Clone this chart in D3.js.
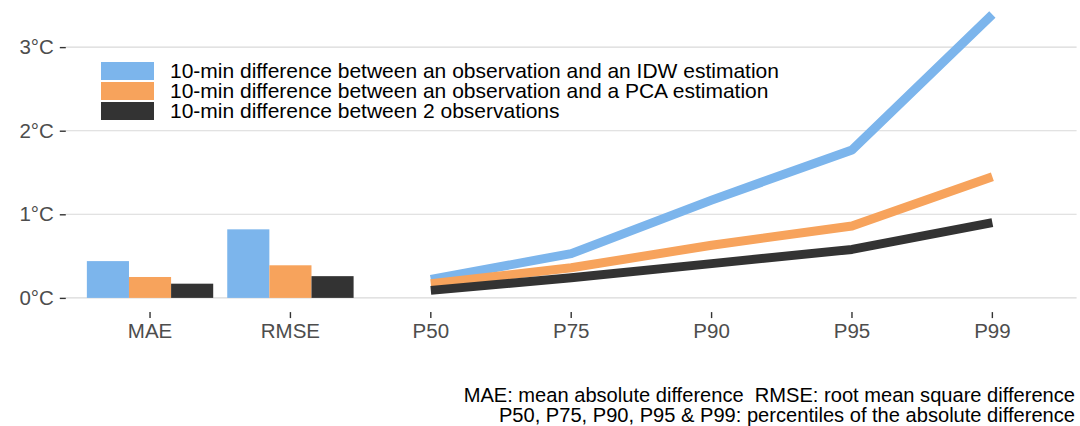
<!DOCTYPE html>
<html>
<head>
<meta charset="utf-8">
<script src="https://cdn.jsdelivr.net/npm/d3@7"></script>
<style>
  html, body { margin: 0; padding: 0; background: #fff; }
  svg { display: block; font-family: "Liberation Sans", Arial, Helvetica, sans-serif; }
</style>
</head>
<body>
<svg id="chart" width="1080" height="426"></svg>
<script>
// Categories on the x axis: two summary scores (bars) and five percentiles (lines)
const categories = ["MAE", "RMSE", "P50", "P75", "P90", "P95", "P99"];
const barCategories = ["MAE", "RMSE"];
const lineCategories = ["P50", "P75", "P90", "P95", "P99"];

// Series names, shown in the legend
const seriesNames = [
  "10-min difference between an observation and an IDW estimation",
  "10-min difference between an observation and a PCA estimation",
  "10-min difference between 2 observations"
];
const seriesColors = ["#7cb5ec", "#f7a35c", "#333333"];

// Values in °C, one per category
const idwValues = [0.44, 0.82, 0.22, 0.53, 1.17, 1.77, 3.39];
const pcaValues = [0.25, 0.39, 0.17, 0.36, 0.63, 0.86, 1.45];
const obsValues = [0.17, 0.26, 0.09, 0.24, 0.41, 0.58, 0.90];

// Y axis ticks
const yTicks = [0, 1, 2, 3];
const yTickLabels = ["0°C", "1°C", "2°C", "3°C"];

const captionLines = [
  "MAE: mean absolute difference  RMSE: root mean square difference",
  "P50, P75, P90, P95 & P99: percentiles of the absolute difference"
];

const series = seriesNames.map((name, i) => ({
  name,
  color: seriesColors[i],
  values: [idwValues, pcaValues, obsValues][i]
}));

const svg = d3.select("#chart");
const panel = { left: 65.8, right: 1076.6, top: 0.3, bottom: 312.1 };
const axisFont = 20.5;
const legendFont = 21;
const captionFont = 20.1;
const textColor = "#4d4d4d";

const x = d3.scaleBand()
  .domain(categories)
  .range([panel.left, panel.right])
  .paddingInner(0)
  .paddingOuter(0.1);

const y = d3.scaleLinear()
  .domain([-0.17, 3.56])
  .range([panel.bottom, panel.top]);

// Horizontal grid lines
svg.append("g")
  .selectAll("line")
  .data(yTicks)
  .join("line")
  .attr("x1", panel.left)
  .attr("x2", panel.right)
  .attr("y1", d => y(d))
  .attr("y2", d => y(d))
  .attr("stroke", "#d9d9d9")
  .attr("stroke-width", 1.1);

// Y axis
const yAxis = svg.append("g")
  .attr("transform", `translate(${panel.left},0)`)
  .call(d3.axisLeft(y)
    .tickValues(yTicks)
    .tickFormat((d, i) => yTickLabels[i])
    .tickSize(6)
    .tickPadding(6));
yAxis.select(".domain").remove();
yAxis.selectAll(".tick line").attr("stroke", "#333333").attr("stroke-width", 1.4);
yAxis.selectAll(".tick text")
  .attr("fill", textColor)
  .style("font-size", axisFont + "px")
  .style("font-family", "Liberation Sans, Arial, sans-serif");

// X axis
const xAxis = svg.append("g")
  .attr("transform", `translate(0,${panel.bottom})`)
  .call(d3.axisBottom(x)
    .tickSize(6)
    .tickPadding(5));
xAxis.select(".domain").remove();
xAxis.selectAll(".tick line").attr("stroke", "#333333").attr("stroke-width", 1.4);
xAxis.selectAll(".tick text")
  .attr("fill", textColor)
  .style("font-size", axisFont + "px")
  .style("font-family", "Liberation Sans, Arial, sans-serif");

// Dodged bars for MAE and RMSE
const step = x.step();
const inner = d3.scaleBand()
  .domain(d3.range(series.length))
  .range([0, step * 0.9]);

const barGroups = svg.append("g")
  .selectAll("g")
  .data(barCategories)
  .join("g")
  .attr("transform", c => `translate(${x(c) + step * 0.05},0)`);

barGroups.selectAll("rect")
  .data(c => series.map((s, i) => ({ i, color: s.color, value: s.values[categories.indexOf(c)] })))
  .join("rect")
  .attr("x", d => inner(d.i))
  .attr("width", inner.bandwidth())
  .attr("y", d => y(d.value))
  .attr("height", d => y(0) - y(d.value))
  .attr("fill", d => d.color);

// Percentile lines
const line = d3.line()
  .x(d => x(d.cat) + x.bandwidth() / 2)
  .y(d => y(d.value));

svg.append("g")
  .selectAll("path")
  .data(series)
  .join("path")
  .attr("d", s => line(lineCategories.map(c => ({ cat: c, value: s.values[categories.indexOf(c)] }))))
  .attr("fill", "none")
  .attr("stroke", s => s.color)
  .attr("stroke-width", 9)
  .attr("stroke-linejoin", "round")
  .attr("stroke-linecap", "butt");

// Legend inside the panel
const legend = svg.append("g").attr("transform", "translate(101,62)");
const legendRow = legend.selectAll("g")
  .data(series)
  .join("g")
  .attr("transform", (d, i) => `translate(0,${i * 20})`);
legendRow.append("rect")
  .attr("width", 53)
  .attr("height", 18)
  .attr("fill", d => d.color);
legendRow.append("text")
  .attr("x", 69)
  .attr("y", 9)
  .attr("dy", "0.35em")
  .attr("fill", "#000")
  .style("font-size", legendFont + "px")
  .text(d => d.name);

// Caption
svg.append("g")
  .selectAll("text")
  .data(captionLines)
  .join("text")
  .attr("x", 1075)
  .attr("y", (d, i) => 402 + i * 20)
  .attr("text-anchor", "end")
  .attr("fill", "#000")
  .style("font-size", captionFont + "px")
  .style("white-space", "pre")
  .text(d => d);
</script>
</body>
</html>
